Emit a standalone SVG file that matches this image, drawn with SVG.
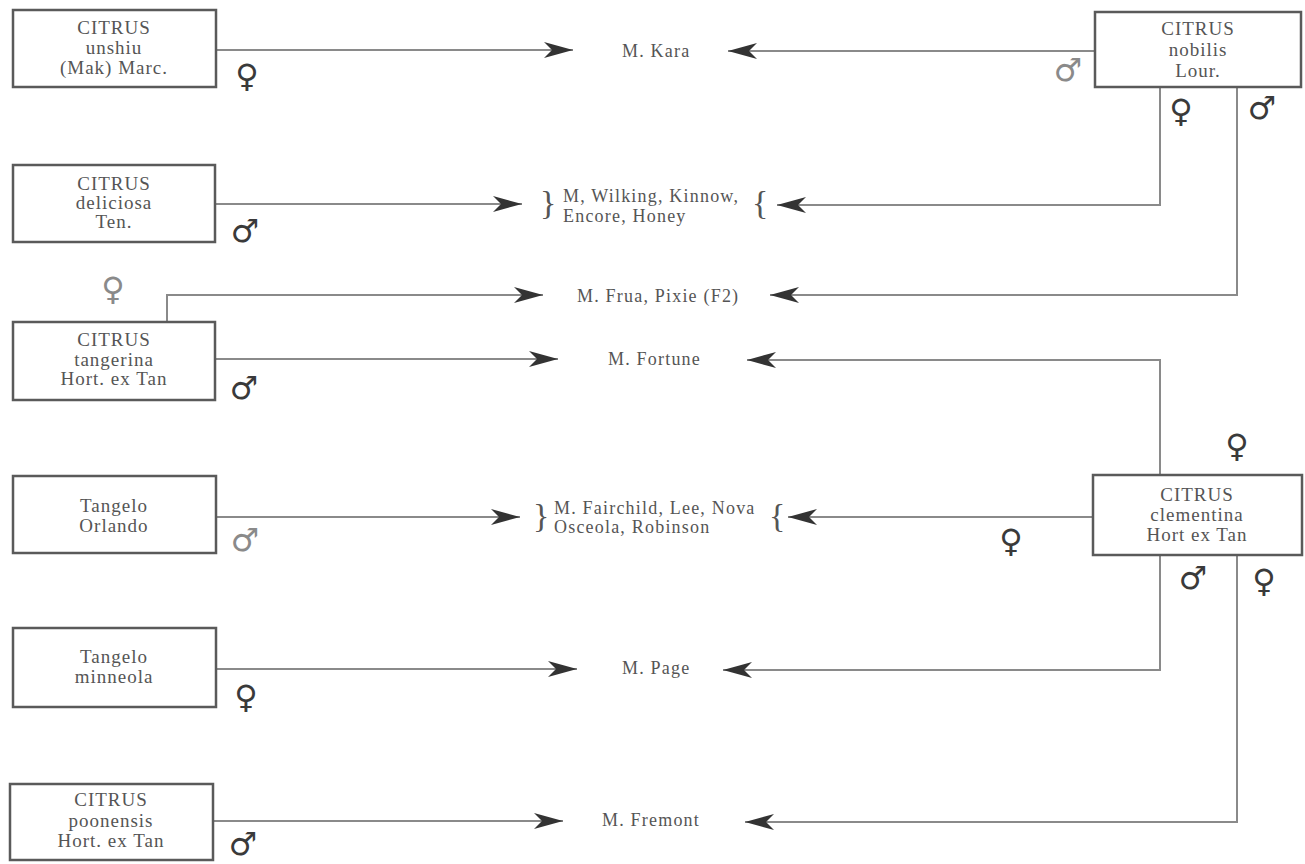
<svg xmlns="http://www.w3.org/2000/svg" width="1305" height="864" viewBox="0 0 1305 864">
<style>
.box{fill:#fff;stroke:#5a5a5a;stroke-width:2.5}
.bt{font-family:"Liberation Serif",serif;font-size:19px;letter-spacing:1px;fill:#555;text-anchor:middle}
.lbl{font-family:"Liberation Serif",serif;font-size:18px;letter-spacing:1.2px;fill:#555}
.br{font-family:"Liberation Serif",serif;font-size:34px;fill:#555}
.ln{fill:none;stroke:#8a8a8a;stroke-width:2}
.sx{font-family:"DejaVu Sans",sans-serif;font-size:32px;fill:#3a3a3a;text-anchor:middle}
.sxg{fill:#8a8a8a}
</style>
<defs>
<marker id="ah" markerUnits="userSpaceOnUse" markerWidth="32" markerHeight="20" refX="30" refY="10" orient="auto">
<path d="M1,2 L30,10 L1,18 L9,10 Z" fill="#333"/>
</marker>
</defs>
<g id="connectors">
<path class="ln" d="M216,50 H573" marker-end="url(#ah)"/>
<path class="ln" d="M1095,51 H728" marker-end="url(#ah)"/>
<path class="ln" d="M215,204 H522" marker-end="url(#ah)"/>
<path class="ln" d="M1160,87 V205 H777" marker-end="url(#ah)"/>
<path class="ln" d="M167,322 V295 H543" marker-end="url(#ah)"/>
<path class="ln" d="M1237,87 V295 H770" marker-end="url(#ah)"/>
<path class="ln" d="M215,359 H558" marker-end="url(#ah)"/>
<path class="ln" d="M1160,475 V360 H747" marker-end="url(#ah)"/>
<path class="ln" d="M216,517 H520" marker-end="url(#ah)"/>
<path class="ln" d="M1093,517 H788" marker-end="url(#ah)"/>
<path class="ln" d="M216,669 H577" marker-end="url(#ah)"/>
<path class="ln" d="M1160,555 V670 H723" marker-end="url(#ah)"/>
<path class="ln" d="M213,821 H563" marker-end="url(#ah)"/>
<path class="ln" d="M1237,555 V822 H745" marker-end="url(#ah)"/>
</g>
<g id="unshiu">
<rect class="box" x="13" y="10" width="203" height="77"/>
<text class="bt" x="114" y="34">CITRUS</text>
<text class="bt" x="114" y="54">unshiu</text>
<text class="bt" x="114" y="74">(Mak) Marc.</text>
<text class="sx" x="247" y="87">♀</text>
</g>
<g id="nobilis">
<rect class="box" x="1095" y="12" width="206" height="75"/>
<text class="bt" x="1198" y="35">CITRUS</text>
<text class="bt" x="1198" y="56">nobilis</text>
<text class="bt" x="1198" y="77">Lour.</text>
<text class="sx sxg" x="1068" y="81">♂</text>
<text class="sx" x="1181" y="122">♀</text>
<text class="sx" x="1262" y="119">♂</text>
</g>
<g id="deliciosa">
<rect class="box" x="13" y="165" width="202" height="77"/>
<text class="bt" x="114" y="190">CITRUS</text>
<text class="bt" x="114" y="209">deliciosa</text>
<text class="bt" x="114" y="228">Ten.</text>
<text class="sx" x="245" y="242">♂</text>
</g>
<g id="tangerina">
<rect class="box" x="13" y="322" width="202" height="78"/>
<text class="bt" x="114" y="346">CITRUS</text>
<text class="bt" x="114" y="366">tangerina</text>
<text class="bt" x="114" y="385">Hort. ex Tan</text>
<text class="sx sxg" x="113" y="300">♀</text>
<text class="sx" x="244" y="399">♂</text>
</g>
<g id="orlando">
<rect class="box" x="13" y="476" width="203" height="77"/>
<text class="bt" x="114" y="512">Tangelo</text>
<text class="bt" x="114" y="532">Orlando</text>
<text class="sx sxg" x="245" y="551">♂</text>
</g>
<g id="minneola">
<rect class="box" x="13" y="628" width="203" height="79"/>
<text class="bt" x="114" y="663">Tangelo</text>
<text class="bt" x="114" y="683">minneola</text>
<text class="sx" x="246" y="708">♀</text>
</g>
<g id="poonensis">
<rect class="box" x="10" y="784" width="203" height="76"/>
<text class="bt" x="111" y="806">CITRUS</text>
<text class="bt" x="111" y="827">poonensis</text>
<text class="bt" x="111" y="847">Hort. ex Tan</text>
<text class="sx" x="243" y="855">♂</text>
</g>
<g id="clementina">
<rect class="box" x="1093" y="475" width="209" height="80"/>
<text class="bt" x="1197" y="501">CITRUS</text>
<text class="bt" x="1197" y="521">clementina</text>
<text class="bt" x="1197" y="541">Hort ex Tan</text>
<text class="sx" x="1237" y="457">♀</text>
<text class="sx" x="1011" y="552">♀</text>
<text class="sx" x="1193" y="589">♂</text>
<text class="sx" x="1264" y="592">♀</text>
</g>
<g id="kara"><text class="lbl" x="622" y="57">M. Kara</text></g>
<g id="wilking">
<text class="br" x="540" y="214">}</text>
<text class="lbl" x="563" y="202">M, Wilking, Kinnow,</text>
<text class="lbl" x="563" y="222">Encore, Honey</text>
<text class="br" x="752" y="214">{</text>
</g>
<g id="frua"><text class="lbl" x="577" y="302">M. Frua, Pixie (F2)</text></g>
<g id="fortune"><text class="lbl" x="608" y="365">M. Fortune</text></g>
<g id="fairchild">
<text class="br" x="533" y="527">}</text>
<text class="lbl" x="554" y="514">M. Fairchild, Lee, Nova</text>
<text class="lbl" x="554" y="533">Osceola, Robinson</text>
<text class="br" x="769" y="527">{</text>
</g>
<g id="page"><text class="lbl" x="622" y="674">M. Page</text></g>
<g id="fremont"><text class="lbl" x="602" y="826">M. Fremont</text></g>
</svg>
